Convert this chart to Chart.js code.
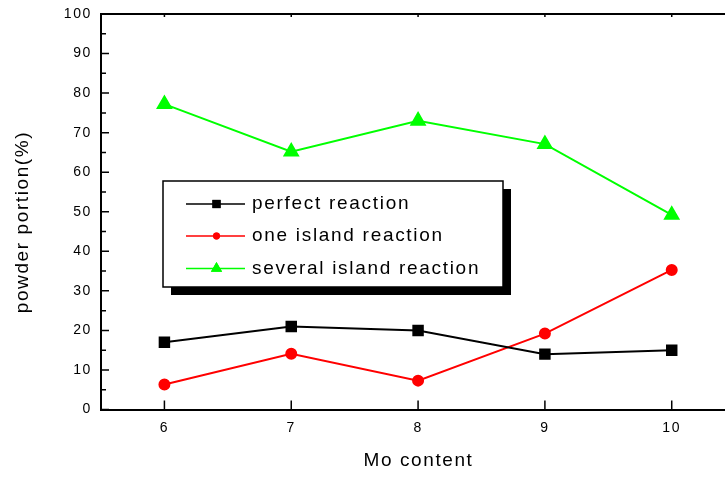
<!DOCTYPE html>
<html>
<head>
<meta charset="utf-8">
<script src="https://cdn.jsdelivr.net/npm/chart.js@4.4.1/dist/chart.umd.min.js"></script>
<style>
  html, body { margin: 0; padding: 0; background: #fff; overflow: hidden; }
  canvas { display: block; }
</style>
</head>
<body>
<canvas id="myChart" width="725" height="477"></canvas>
<script>
const moContent = [6, 7, 8, 9, 10];
const perfectReaction = [17, 21, 20, 14, 15];
const oneIslandReaction = [6.3, 14.1, 7.3, 19.2, 35.3];
const severalIslandReaction = [77.2, 65.2, 73, 67.1, 49.2];
const seriesNames = ['perfect reaction', 'one island reaction', 'several island reaction'];
const xTitle = 'Mo content';
const yTitle = 'powder portion(%)';

const FONT = "'Liberation Sans', Arial, sans-serif";

function series(values) {
  return values.map((v, i) => ({ x: moContent[i], y: v }));
}

// axes frame, inward ticks, titles, boxed legend with shadow
const framePlugin = {
  id: 'frame',
  beforeDraw(chart) {
    chart.ctx.letterSpacing = '1.6px';
  },
  afterDraw(chart) {
    const { ctx, chartArea: a } = chart;
    const x = chart.scales.x, y = chart.scales.y;
    ctx.save();
    ctx.strokeStyle = '#000';
    ctx.lineWidth = 2;
    // top line
    ctx.beginPath();
    ctx.moveTo(a.left - 1, a.top);
    ctx.lineTo(a.right, a.top);
    ctx.stroke();

    ctx.lineWidth = 1.5;
    ctx.beginPath();
    y.ticks.forEach((t, i) => {
      const py = y.getPixelForValue(t.value);
      ctx.moveTo(a.left, py);
      ctx.lineTo(a.left + 8, py);
      if (i < y.ticks.length - 1) {
        const pm = y.getPixelForValue((t.value + y.ticks[i + 1].value) / 2);
        ctx.moveTo(a.left, pm);
        ctx.lineTo(a.left + 5, pm);
      }
    });
    x.ticks.forEach(t => {
      const px = x.getPixelForValue(t.value);
      ctx.moveTo(px, a.bottom);
      ctx.lineTo(px, a.bottom - 9);
      ctx.moveTo(px, a.top);
      ctx.lineTo(px, a.top + 3);
    });
    ctx.stroke();

    // axis titles
    ctx.fillStyle = '#000';
    ctx.font = '19px ' + FONT;
    ctx.textAlign = 'center';
    ctx.textBaseline = 'middle';
    ctx.fillText(xTitle, 418.5, 461);
    ctx.save();
    ctx.translate(23, 223);
    ctx.rotate(-Math.PI / 2);
    ctx.fillText(yTitle, 1, 0);
    ctx.restore();

    // legend
    const L = 163, T = 181, R = 503, B = 287;
    ctx.fillStyle = '#000';
    ctx.fillRect(L + 8, T + 8, R - L, B - T);
    ctx.fillStyle = '#fff';
    ctx.fillRect(L, T, R - L, B - T);
    ctx.lineWidth = 1.5;
    ctx.strokeRect(L, T, R - L, B - T);

    const rowY = [204, 236, 268.5];
    const legendRadius = [5.8, 3.4, 6.5];
    ctx.letterSpacing = '1.7px';
    chart.data.datasets.forEach((ds, i) => {
      const ry = rowY[i];
      ctx.strokeStyle = ds.borderColor;
      ctx.lineWidth = 1.5;
      ctx.beginPath();
      ctx.moveTo(186, ry);
      ctx.lineTo(245, ry);
      ctx.stroke();
      ctx.fillStyle = ds.pointBackgroundColor;
      Chart.helpers.drawPoint(ctx, {
        pointStyle: ds.pointStyle,
        radius: legendRadius[i],
        rotation: 0,
        borderWidth: 0
      }, 216.5, ry);
      ctx.fill();
      ctx.fillStyle = '#000';
      ctx.font = '19px ' + FONT;
      ctx.textAlign = 'left';
      ctx.textBaseline = 'middle';
      ctx.fillText(ds.label, 252, ry);
    });
    ctx.restore();
  }
};

new Chart(document.getElementById('myChart'), {
  type: 'line',
  data: {
    datasets: [
      {
        label: seriesNames[0],
        data: series(perfectReaction),
        borderColor: '#000000',
        pointBackgroundColor: '#000000',
        pointBorderColor: '#000000',
        pointStyle: 'rect',
        pointRadius: 6.7,
        borderWidth: 2
      },
      {
        label: seriesNames[1],
        data: series(oneIslandReaction),
        borderColor: '#ff0000',
        pointBackgroundColor: '#ff0000',
        pointBorderColor: '#ff0000',
        pointStyle: 'circle',
        pointRadius: 5,
        borderWidth: 2
      },
      {
        label: seriesNames[2],
        data: series(severalIslandReaction),
        borderColor: '#00ff00',
        pointBackgroundColor: '#00ff00',
        pointBorderColor: '#00ff00',
        pointStyle: 'triangle',
        pointRadius: 7.7,
        borderWidth: 2
      }
    ]
  },
  options: {
    responsive: false,
    animation: false,
    devicePixelRatio: 1,
    layout: { autoPadding: false, padding: { top: 14, left: 0, right: 0, bottom: 0 } },
    elements: { point: { borderWidth: 0 } },
    scales: {
      x: {
        type: 'linear',
        min: 5.5,
        max: 10.42,
        afterBuildTicks(s) { s.ticks = moContent.map(v => ({ value: v })); },
        afterFit(s) { s.height = 67.5; s.paddingLeft = 0; s.paddingRight = 0; },
        grid: { display: false, drawTicks: false },
        border: { display: true, color: '#000', width: 2 },
        ticks: {
          color: '#000',
          padding: 10,
          autoSkip: false,
          maxRotation: 0,
          font: { family: FONT, size: 14 }
        }
      },
      y: {
        min: 0,
        max: 100,
        afterFit(s) { s.width = 101; s.paddingTop = 0; s.paddingBottom = 0; },
        grid: { display: false, drawTicks: false },
        border: { display: true, color: '#000', width: 2 },
        ticks: {
          stepSize: 10,
          color: '#000',
          padding: 9,
          font: { family: FONT, size: 14 }
        }
      }
    },
    plugins: {
      legend: { display: false },
      tooltip: { enabled: false }
    }
  },
  plugins: [framePlugin]
});
</script>
</body>
</html>
